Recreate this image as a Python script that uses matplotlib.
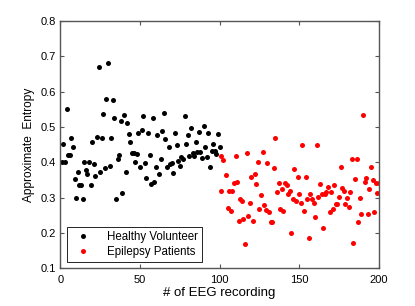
import matplotlib
matplotlib.use("Agg")
import matplotlib.pyplot as plt

plt.rcParams['font.family'] = ['Liberation Sans', 'DejaVu Sans']

healthy_x = [1, 3, 2, 4, 5, 6, 7, 8, 9, 10, 11, 12, 13, 14, 15, 16, 17, 18, 19, 20,
             21, 22, 23, 24, 25, 26, 27, 28, 29, 30, 31, 32, 33, 34, 35, 36, 37, 38, 39, 40,
             41, 42, 43, 44, 45, 46, 47, 48, 49, 50, 51, 52, 53, 54, 55, 56, 57, 58, 59, 60,
             61, 62, 63, 64, 65, 66, 67, 68, 69, 70, 71, 72, 73, 74, 75, 76, 77, 78, 79, 80,
             81, 82, 83, 84, 85, 86, 87, 88, 89, 90, 91, 92, 93, 94, 95, 96, 97, 98, 99, 100]
healthy_y = [0.400, 0.400, 0.453, 0.550, 0.420, 0.420, 0.470, 0.444, 0.354, 0.300,
             0.373, 0.337, 0.337, 0.297, 0.400, 0.379, 0.366, 0.402, 0.335, 0.458,
             0.396, 0.362, 0.472, 0.670, 0.373, 0.469, 0.536, 0.385, 0.578, 0.682,
             0.390, 0.469, 0.576, 0.525, 0.296, 0.410, 0.420, 0.518, 0.314, 0.535,
             0.372, 0.512, 0.481, 0.458, 0.427, 0.425, 0.400, 0.422, 0.484, 0.388,
             0.492, 0.530, 0.397, 0.356, 0.483, 0.420, 0.339, 0.526, 0.345, 0.388,
             0.478, 0.367, 0.408, 0.489, 0.540, 0.467, 0.387, 0.444, 0.395, 0.397,
             0.370, 0.483, 0.448, 0.404, 0.390, 0.416, 0.410, 0.532, 0.453, 0.477,
             0.417, 0.496, 0.426, 0.417, 0.458, 0.430, 0.486, 0.430, 0.413, 0.502,
             0.443, 0.415, 0.483, 0.387, 0.432, 0.451, 0.432, 0.422, 0.480, 0.444]

epilepsy_x = [101, 101, 102, 104, 105, 106, 107, 108, 109, 110,
              111, 112, 113, 114, 115, 116, 117, 118, 119, 120,
              121, 122, 123, 124, 125, 126, 127, 128, 129, 130,
              131, 132, 133, 134, 135, 136, 137, 138, 139, 140,
              141, 142, 143, 144, 145, 146, 147, 148, 149, 150,
              151, 152, 153, 154, 155, 156, 157, 158, 159, 160,
              161, 162, 163, 164, 165, 166, 167, 168, 169, 170,
              171, 172, 173, 174, 175, 176, 177, 178, 179, 180,
              181, 182, 183, 184, 185, 186, 187, 188, 189, 190,
              191, 192, 193, 194, 195, 196, 197, 198, 199, 200]
epilepsy_y = [0.418, 0.318, 0.406, 0.364, 0.272, 0.320, 0.262, 0.318, 0.342, 0.418,
              0.344, 0.233, 0.297, 0.290, 0.240, 0.170, 0.425, 0.247, 0.286, 0.359,
              0.233, 0.368, 0.338, 0.400, 0.267, 0.307, 0.429, 0.278, 0.265, 0.397,
              0.258, 0.232, 0.232, 0.383, 0.470, 0.315, 0.342, 0.269, 0.325, 0.263,
              0.342, 0.337, 0.309, 0.319, 0.200, 0.296, 0.380, 0.290, 0.358, 0.309,
              0.286, 0.449, 0.262, 0.358, 0.295, 0.185, 0.310, 0.296, 0.284, 0.244,
              0.449, 0.302, 0.338, 0.309, 0.213, 0.310, 0.317, 0.329, 0.258, 0.317,
              0.268, 0.335, 0.281, 0.281, 0.302, 0.387, 0.326, 0.319, 0.281, 0.300,
              0.274, 0.317, 0.409, 0.173, 0.354, 0.409, 0.230, 0.300, 0.255, 0.535,
              0.343, 0.356, 0.255, 0.324, 0.387, 0.349, 0.258, 0.340, 0.312, 0.340]

x_ticks = [0, 50, 100, 150, 200]
y_ticks = [0.1, 0.2, 0.3, 0.4, 0.5, 0.6, 0.7, 0.8]

fig = plt.figure(figsize=(4.15, 3.06), dpi=100)
ax = fig.add_axes([0.1453, 0.123, 0.7677, 0.809])
ax.plot(healthy_x, healthy_y, 'o', color='black', markersize=3.6, markeredgewidth=0,
        label='Healthy Volunteer')
ax.plot(epilepsy_x, epilepsy_y, 'o', color='red', markersize=3.6, markeredgewidth=0,
        label='Epilepsy Patients')
ax.set_xlim(0, 200)
ax.set_ylim(0.1, 0.8)
ax.set_xticks(x_ticks)
ax.set_yticks(y_ticks)
ax.set_yticklabels([f"{v:.1f}" for v in y_ticks])
ax.tick_params(direction='in', length=3, width=0.8, labelsize=8, top=True, right=True,
               colors='#555555', labelcolor='black')
ax.tick_params(axis='x', pad=5)
ax.tick_params(axis='y', pad=3)
for s in ax.spines.values():
    s.set_linewidth(1.0)
    s.set_color('#555555')
ax.set_xlabel('# of EEG recording', fontsize=9.5, labelpad=1)
ax.set_ylabel('Approximate  Entropy', fontsize=8.6, labelpad=4)
leg = ax.legend(loc='lower left', bbox_to_anchor=(0.021, 0.027), borderaxespad=0,
                fontsize=8.3, fancybox=False, framealpha=1, edgecolor='black',
                handletextpad=1.0, borderpad=0.3, labelspacing=0.3, handlelength=2.2,
                handleheight=0.7)
leg.get_frame().set_linewidth(0.6)
fig.savefig('out.png', dpi=100)
